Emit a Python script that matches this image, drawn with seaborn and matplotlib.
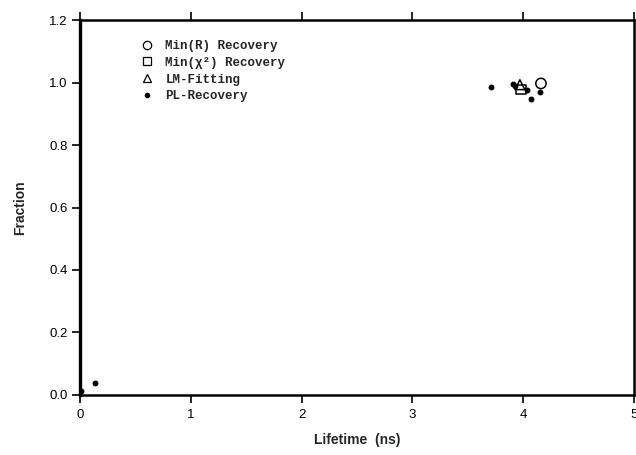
import matplotlib
matplotlib.use("Agg")
import matplotlib.pyplot as plt
from matplotlib.lines import Line2D
import seaborn as sns
import pandas as pd

# Recovered lifetime components (lifetime in ns, fractional amplitude)
minr_lifetime = [4.16]
minr_fraction = [0.997]

minchi_lifetime = [3.98]
minchi_fraction = [0.978]

lm_lifetime = [3.97]
lm_fraction = [0.993]

pl_lifetime = [0.005, 0.135, 3.71, 3.91, 3.93, 4.03, 4.07, 4.15]
pl_fraction = [0.013, 0.039, 0.987, 0.995, 0.989, 0.975, 0.947, 0.969]

series_names = ["Min(R) Recovery", "Min(χ²) Recovery", "LM-Fitting", "PL-Recovery"]
x_ticks = [0, 1, 2, 3, 4, 5]
y_ticks = [0.0, 0.2, 0.4, 0.6, 0.8, 1.0, 1.2]

sns.set_theme(style="white")
plt.rcParams["font.family"] = ["Liberation Sans", "DejaVu Sans"]

fig = plt.figure(figsize=(6.36, 4.55), dpi=100)
ax = fig.add_axes([0.1258, 0.1319, 0.8711, 0.8241])

def frame(xs, ys):
    return pd.DataFrame({"lifetime": xs, "fraction": ys})

sns.scatterplot(data=frame(pl_lifetime, pl_fraction), x="lifetime", y="fraction",
                marker="o", s=18, color="black", edgecolor="black", linewidth=0, ax=ax, zorder=3)
sns.scatterplot(data=frame(minr_lifetime, minr_fraction), x="lifetime", y="fraction",
                marker="o", s=55, facecolor="none", edgecolor="black", linewidth=1.1, ax=ax, zorder=4)
sns.scatterplot(data=frame(minchi_lifetime, minchi_fraction), x="lifetime", y="fraction",
                marker="s", s=45, facecolor="none", edgecolor="black", linewidth=1.1, ax=ax, zorder=4)
sns.scatterplot(data=frame(lm_lifetime, lm_fraction), x="lifetime", y="fraction",
                marker="^", s=50, facecolor="none", edgecolor="black", linewidth=1.1, ax=ax, zorder=4)

ax.set_xlim(0, 5)
ax.set_ylim(0, 1.2)
ax.set_xticks(x_ticks)
ax.set_yticks(y_ticks)
ax.set_xticklabels([str(t) for t in x_ticks])
ax.set_yticklabels([f"{t:.1f}" for t in y_ticks])

for side in ["left", "right", "top", "bottom"]:
    ax.spines[side].set_visible(True)
    ax.spines[side].set_color("black")
    ax.spines[side].set_linewidth(1.8)
ax.spines["left"].set_linewidth(2.4)

ax.tick_params(axis="x", which="major", direction="out", length=6, width=1.2,
               top=True, bottom=True, labelsize=9.5, pad=4, colors="black")
ax.tick_params(axis="y", which="major", direction="out", length=6, width=1.2,
               left=True, right=False, labelsize=9.5, pad=3, colors="black")

ax.set_xlabel("Lifetime  (ns)", fontsize=10, fontweight="bold", labelpad=9)
ax.set_ylabel("Fraction", fontsize=10, fontweight="bold", labelpad=16)

handles = [
    Line2D([], [], linestyle="none", marker="o", markersize=6, markerfacecolor="none",
           markeredgecolor="black", markeredgewidth=0.9),
    Line2D([], [], linestyle="none", marker="s", markersize=6, markerfacecolor="none",
           markeredgecolor="black", markeredgewidth=0.9),
    Line2D([], [], linestyle="none", marker="^", markersize=6, markerfacecolor="none",
           markeredgecolor="black", markeredgewidth=0.9),
    Line2D([], [], linestyle="none", marker="o", markersize=3, markerfacecolor="black",
           markeredgecolor="black"),
]
ax.legend(handles, series_names, loc="upper left", bbox_to_anchor=(0.102, 0.96),
          frameon=False, handlelength=0.8, handletextpad=1.1, labelspacing=0.38,
          borderaxespad=0, prop={"family": "Liberation Mono", "weight": "bold", "size": 9})

fig.savefig("out.png", dpi=100)
